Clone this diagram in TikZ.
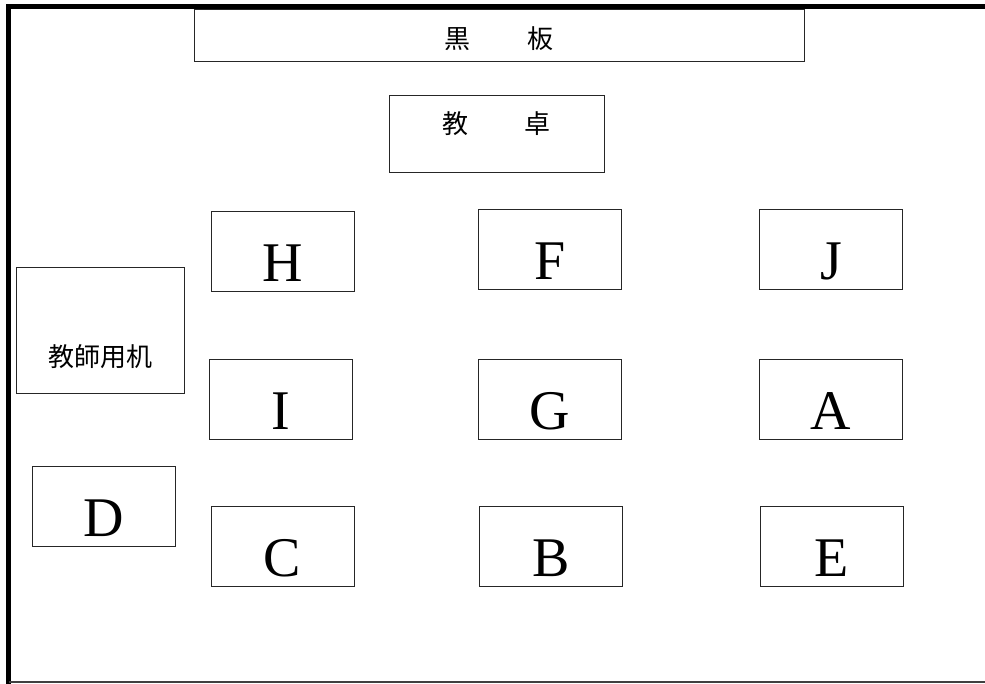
\documentclass[tikz,border=0pt]{standalone}
\usepackage{fontspec}
\newfontfamily\letterfont{Liberation Serif}
\newfontfamily\cjkfont{Noto Sans CJK JP}
\begin{document}
\begin{tikzpicture}[x=1pt,y=-1pt,
  seat/.style={draw=black!85, line width=1pt, inner sep=0pt, text height=70pt, text depth=10pt,
    minimum width=143pt, anchor=north, font=\letterfont\fontsize{56}{60}\selectfont},
  cjkbox/.style={draw=black!85, line width=1pt, inner sep=0pt, anchor=north,
    font=\cjkfont\fontsize{26}{30}\selectfont},
  wall/.style={line width=5pt, line cap=rect, black}]
\useasboundingbox (0,0) rectangle (985,684);
% room walls
\draw[wall] (985,6.5) -- (8.5,6.5) -- (8.5,684);
\draw[line width=1.2pt, black!75] (8.5,682) -- (985,682);
% blackboard and teacher's desk
\node[cjkbox, minimum width=610pt, text height=39pt, text depth=13pt] (board) at (499,9) {黒\hspace{57pt}板};
\node[cjkbox, minimum width=215pt, text height=38pt, text depth=39pt] (desk) at (496.5,95) {教\hspace{57pt}卓};
\node[cjkbox, minimum width=168pt, text height=99pt, text depth=27pt] (pc) at (100,267) {教師用机};
% seats
\node[seat] (H) at (282.5,211) {H};
\node[seat] (F) at (550,209) {F};
\node[seat] (J) at (831,209) {J};
\node[seat] (I) at (281,359) {I};
\node[seat] (G) at (550,359) {G};
\node[seat] (A) at (830.5,359) {A};
\node[seat] (D) at (103.5,466) {D};
\node[seat] (C) at (282.5,506) {C};
\node[seat] (B) at (551,506) {B};
\node[seat] (E) at (832,506) {E};
\end{tikzpicture}
\end{document}
